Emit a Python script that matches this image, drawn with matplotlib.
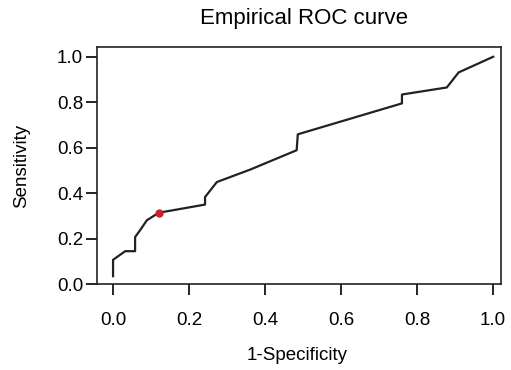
import matplotlib
matplotlib.use("Agg")
import matplotlib.pyplot as plt

plt.rcParams["font.family"] = ["Liberation Sans", "DejaVu Sans"]

# empirical ROC points
fpr = [0.0, 0.0, 0.032, 0.058, 0.058, 0.071, 0.089, 0.120, 0.242, 0.242, 0.273,
       0.361, 0.483, 0.486, 0.760, 0.760, 0.878, 0.909, 1.0]
tpr = [0.035, 0.107, 0.145, 0.145, 0.207, 0.237, 0.281, 0.314, 0.350, 0.383, 0.449,
       0.504, 0.589, 0.659, 0.795, 0.834, 0.865, 0.931, 1.0]
cut_x = [0.120]
cut_y = [0.314]
ticks = [0.0, 0.2, 0.4, 0.6, 0.8, 1.0]

fig = plt.figure(figsize=(5.11, 3.70), dpi=100)
ax = fig.add_axes([0.190, 0.232, 0.790, 0.641])

ax.plot(fpr, tpr, color="#222222", lw=1.6)
ax.plot(cut_x, cut_y, "o", color="#d0202e", ms=5, zorder=3)

ax.set_xlim(-0.042, 1.02)
ax.set_ylim(0.0, 1.043)
ax.set_xticks(ticks)
ax.set_yticks(ticks)
ax.set_xticklabels([f"{t:.1f}" for t in ticks])
ax.set_yticklabels([f"{t:.1f}" for t in ticks])
ax.tick_params(axis="x", length=8, width=1.2, pad=12, labelsize=13.5)
ax.tick_params(axis="y", length=8, width=1.2, pad=2, labelsize=13.5)
for s in ax.spines.values():
    s.set_linewidth(1.2)
    s.set_color("#222222")

fig.text(0.595, 0.95, "Empirical ROC curve", ha="center", va="center", fontsize=16)
fig.text(0.042, 0.551, "Sensitivity", ha="center", va="center", rotation=90, fontsize=13.5)
fig.text(0.581, 0.038, "1-Specificity", ha="center", va="center", fontsize=13.5)

fig.savefig("out.png", dpi=100)
